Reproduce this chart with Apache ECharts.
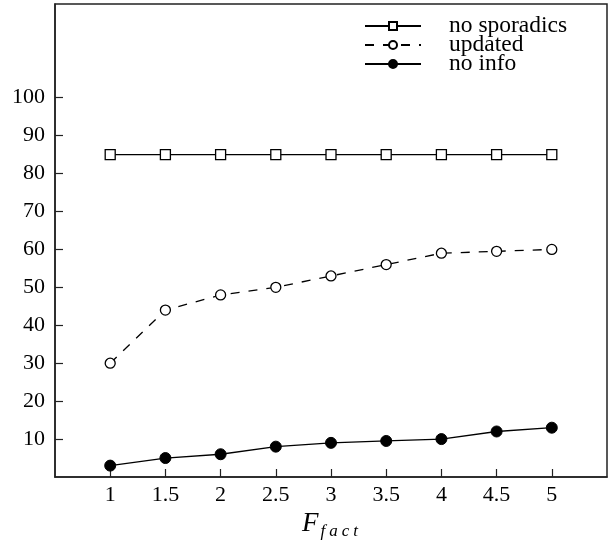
<!DOCTYPE html>
<html>
<head>
<meta charset="utf-8">
<script src="https://cdn.jsdelivr.net/npm/echarts@6/dist/echarts.min.js"></script>
<style>
  html, body { margin: 0; padding: 0; background: #fff; }
  #main { width: 609px; height: 540px; }
</style>
</head>
<body>
<div id="main"></div>
<script>
// data
var fFact = [1, 1.5, 2, 2.5, 3, 3.5, 4, 4.5, 5];
var noSporadics = [85, 85, 85, 85, 85, 85, 85, 85, 85];
var updated = [30, 44, 48, 50, 53, 56, 59, 59.5, 60];
var noInfo = [3, 5, 6, 8, 9, 9.5, 10, 12, 13];
var yTicks = [10, 20, 30, 40, 50, 60, 70, 80, 90, 100];

function pairs(ys) {
  return fFact.map(function (x, i) { return [x, ys[i]]; });
}

var font = 'Liberation Serif';
var myChart = echarts.init(document.getElementById('main'), null, { renderer: 'canvas' });

var option = {
  backgroundColor: '#fff',
  animation: false,
  grid: {
    left: 55, right: 2, top: 4, bottom: 63,
    outerBoundsMode: 'none',
    show: true, borderColor: '#222', borderWidth: 1.5
  },
  legend: {
    orient: 'vertical',
    left: 359, top: 9,
    itemWidth: 56, itemHeight: 10, itemGap: -5,
    textStyle: {
      fontFamily: font, fontSize: 23.5, color: '#000',
      padding: [0, 0, 0, 23]
    },
    data: ['no sporadics', 'updated', 'no info']
  },
  xAxis: {
    type: 'value',
    min: 0.5, max: 5.5, interval: 0.5,
    splitLine: { show: false },
    axisLine: { lineStyle: { color: '#222', width: 1.5 } },
    axisTick: { inside: true, length: 8, customValues: fFact, lineStyle: { color: '#222', width: 1.2 } },
    axisLabel: { customValues: fFact, margin: 7, fontFamily: font, fontSize: 22, color: '#000' },
    name: '{a|F}{b|f}{b|a}{b|c}{b|t}',
    nameLocation: 'middle',
    nameGap: 15,
    nameTextStyle: {
      rich: {
        a: { fontFamily: font, fontStyle: 'italic', fontSize: 27, color: '#000' },
        b: { fontFamily: font, fontStyle: 'italic', fontSize: 17, color: '#000', padding: [14, 2, 0, 2] }
      }
    }
  },
  yAxis: {
    type: 'value',
    min: 0, max: 124.7, interval: 10,
    splitLine: { show: false },
    axisLine: { lineStyle: { color: '#222', width: 1.5 } },
    axisTick: { inside: true, length: 8, customValues: yTicks, lineStyle: { color: '#222', width: 1.2 } },
    axisLabel: { customValues: yTicks, margin: 10, fontFamily: font, fontSize: 22, color: '#000' }
  },
  series: [
    {
      name: 'no sporadics',
      type: 'line',
      data: pairs(noSporadics),
      symbol: 'rect',
      symbolSize: 10,
      lineStyle: { color: '#000', width: 1.3 },
      itemStyle: { color: '#fff', borderColor: '#000', borderWidth: 1.3 }
    },
    {
      name: 'updated',
      type: 'line',
      data: pairs(updated),
      symbol: 'circle',
      symbolSize: 10,
      lineStyle: { color: '#000', width: 1.3, type: [9, 9] },
      itemStyle: { color: '#fff', borderColor: '#000', borderWidth: 1.3 }
    },
    {
      name: 'no info',
      type: 'line',
      data: pairs(noInfo),
      symbol: 'circle',
      symbolSize: 11,
      lineStyle: { color: '#000', width: 1.3 },
      itemStyle: { color: '#000', borderColor: '#000', borderWidth: 1 }
    }
  ]
};

myChart.setOption(option);
</script>
</body>
</html>
